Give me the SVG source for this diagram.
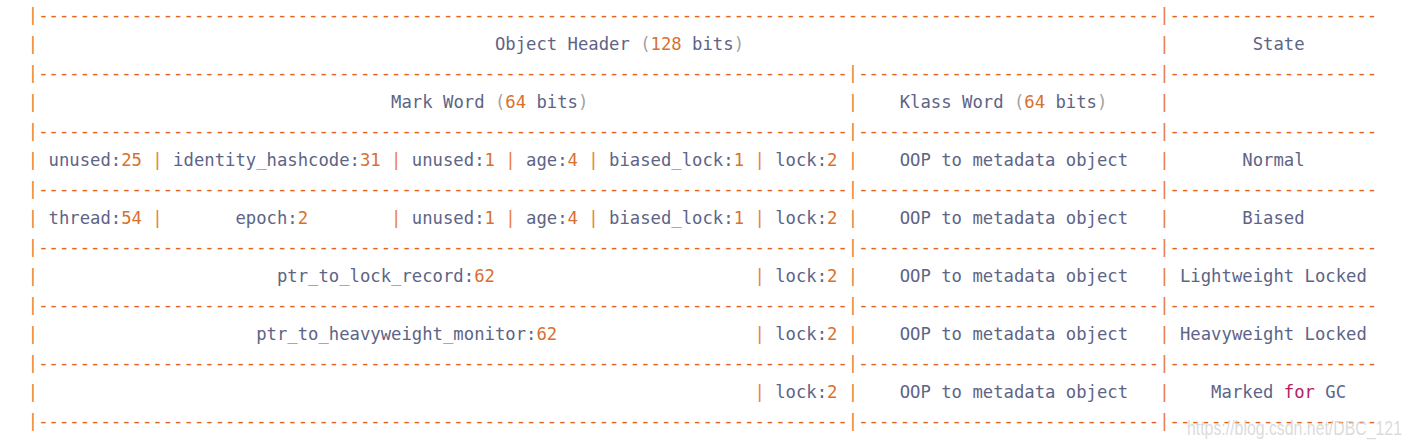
<svg xmlns="http://www.w3.org/2000/svg" width="1410" height="446" viewBox="0 0 1410 446">
<style>
text{font-family:"DejaVu Sans Mono","Liberation Mono",monospace;font-size:17.24px;fill:#5d6486;white-space:pre}
.p{fill:#e97d3e}
.d{fill:#e4621a}
.n{fill:#d8702e}
.g{fill:#a3a3a3}
.k{fill:#b5215e}
.wm{font-family:"Liberation Sans",Arial,sans-serif;font-size:19.5px;fill:#cfcfcf;fill-opacity:0.75}
</style>
<rect width="1410" height="446" fill="#ffffff"/>
<g id="borders">
<g id="border-0"><text class="p" x="27.8" y="21">|</text><text class="d" x="38.18" y="21" textLength="1121.04" lengthAdjust="spacing">------------------------------------------------------------------------------------------------------------</text><text class="p" x="1159.22" y="21">|</text><text class="d" x="1169.6" y="21" textLength="207.6" lengthAdjust="spacing">--------------------</text></g>
<g id="border-2"><text class="p" x="27.8" y="79">|</text><text class="d" x="38.18" y="79" textLength="809.64" lengthAdjust="spacing">------------------------------------------------------------------------------</text><text class="p" x="847.82" y="79">|</text><text class="d" x="858.2" y="79" textLength="301.02" lengthAdjust="spacing">-----------------------------</text><text class="p" x="1159.22" y="79">|</text><text class="d" x="1169.6" y="79" textLength="207.6" lengthAdjust="spacing">--------------------</text></g>
<g id="border-4"><text class="p" x="27.8" y="137">|</text><text class="d" x="38.18" y="137" textLength="809.64" lengthAdjust="spacing">------------------------------------------------------------------------------</text><text class="p" x="847.82" y="137">|</text><text class="d" x="858.2" y="137" textLength="301.02" lengthAdjust="spacing">-----------------------------</text><text class="p" x="1159.22" y="137">|</text><text class="d" x="1169.6" y="137" textLength="207.6" lengthAdjust="spacing">--------------------</text></g>
<g id="border-6"><text class="p" x="27.8" y="195">|</text><text class="d" x="38.18" y="195" textLength="809.64" lengthAdjust="spacing">------------------------------------------------------------------------------</text><text class="p" x="847.82" y="195">|</text><text class="d" x="858.2" y="195" textLength="301.02" lengthAdjust="spacing">-----------------------------</text><text class="p" x="1159.22" y="195">|</text><text class="d" x="1169.6" y="195" textLength="207.6" lengthAdjust="spacing">--------------------</text></g>
<g id="border-8"><text class="p" x="27.8" y="253">|</text><text class="d" x="38.18" y="253" textLength="809.64" lengthAdjust="spacing">------------------------------------------------------------------------------</text><text class="p" x="847.82" y="253">|</text><text class="d" x="858.2" y="253" textLength="301.02" lengthAdjust="spacing">-----------------------------</text><text class="p" x="1159.22" y="253">|</text><text class="d" x="1169.6" y="253" textLength="207.6" lengthAdjust="spacing">--------------------</text></g>
<g id="border-10"><text class="p" x="27.8" y="311">|</text><text class="d" x="38.18" y="311" textLength="809.64" lengthAdjust="spacing">------------------------------------------------------------------------------</text><text class="p" x="847.82" y="311">|</text><text class="d" x="858.2" y="311" textLength="301.02" lengthAdjust="spacing">-----------------------------</text><text class="p" x="1159.22" y="311">|</text><text class="d" x="1169.6" y="311" textLength="207.6" lengthAdjust="spacing">--------------------</text></g>
<g id="border-12"><text class="p" x="27.8" y="369">|</text><text class="d" x="38.18" y="369" textLength="809.64" lengthAdjust="spacing">------------------------------------------------------------------------------</text><text class="p" x="847.82" y="369">|</text><text class="d" x="858.2" y="369" textLength="301.02" lengthAdjust="spacing">-----------------------------</text><text class="p" x="1159.22" y="369">|</text><text class="d" x="1169.6" y="369" textLength="207.6" lengthAdjust="spacing">--------------------</text></g>
<g id="border-14"><text class="p" x="27.8" y="427">|</text><text class="d" x="38.18" y="427" textLength="809.64" lengthAdjust="spacing">------------------------------------------------------------------------------</text><text class="p" x="847.82" y="427">|</text><text class="d" x="858.2" y="427" textLength="301.02" lengthAdjust="spacing">-----------------------------</text><text class="p" x="1159.22" y="427">|</text><text class="d" x="1169.6" y="427" textLength="207.6" lengthAdjust="spacing">--------------------</text></g>
</g>
<g id="row-header">
<text class="p" x="27.8" y="50">|</text>
<text x="494.9" y="50" textLength="249.12" lengthAdjust="spacing">Object Header <tspan class="g">(</tspan><tspan class="n">128</tspan> bits<tspan class="g">)</tspan></text>
<text class="p" x="1159.22" y="50">|</text>
<text x="1252.64" y="50" textLength="51.9" lengthAdjust="spacing">State</text>
</g>
<g id="row-words">
<text class="p" x="27.8" y="108">|</text>
<text x="391.1" y="108" textLength="197.22" lengthAdjust="spacing">Mark Word <tspan class="g">(</tspan><tspan class="n">64</tspan> bits<tspan class="g">)</tspan></text>
<text class="p" x="847.82" y="108">|</text>
<text x="899.72" y="108" textLength="207.6" lengthAdjust="spacing">Klass Word <tspan class="g">(</tspan><tspan class="n">64</tspan> bits<tspan class="g">)</tspan></text>
<text class="p" x="1159.22" y="108">|</text>
</g>
<g id="row-normal">
<text class="p" x="27.8" y="166">|</text>
<text x="48.56" y="166" textLength="93.42" lengthAdjust="spacing">unused:<tspan class="n">25</tspan></text>
<text class="p" x="152.36" y="166">|</text>
<text x="173.12" y="166" textLength="207.6" lengthAdjust="spacing">identity_hashcode:<tspan class="n">31</tspan></text>
<text class="p" x="391.1" y="166">|</text>
<text x="411.86" y="166" textLength="83.04" lengthAdjust="spacing">unused:<tspan class="n">1</tspan></text>
<text class="p" x="505.28" y="166">|</text>
<text x="526.04" y="166" textLength="51.9" lengthAdjust="spacing">age:<tspan class="n">4</tspan></text>
<text class="p" x="588.32" y="166">|</text>
<text x="609.08" y="166" textLength="134.94" lengthAdjust="spacing">biased_lock:<tspan class="n">1</tspan></text>
<text class="p" x="754.4" y="166">|</text>
<text x="775.16" y="166" textLength="62.28" lengthAdjust="spacing">lock:<tspan class="n">2</tspan></text>
<text class="p" x="847.82" y="166">|</text>
<text x="899.72" y="166" textLength="228.36" lengthAdjust="spacing">OOP to metadata object</text>
<text class="p" x="1159.22" y="166">|</text>
<text x="1242.26" y="166" textLength="62.28" lengthAdjust="spacing">Normal</text>
</g>
<g id="row-biased">
<text class="p" x="27.8" y="224">|</text>
<text x="48.56" y="224" textLength="93.42" lengthAdjust="spacing">thread:<tspan class="n">54</tspan></text>
<text class="p" x="152.36" y="224">|</text>
<text x="235.4" y="224" textLength="72.66" lengthAdjust="spacing">epoch:<tspan class="n">2</tspan></text>
<text class="p" x="391.1" y="224">|</text>
<text x="411.86" y="224" textLength="83.04" lengthAdjust="spacing">unused:<tspan class="n">1</tspan></text>
<text class="p" x="505.28" y="224">|</text>
<text x="526.04" y="224" textLength="51.9" lengthAdjust="spacing">age:<tspan class="n">4</tspan></text>
<text class="p" x="588.32" y="224">|</text>
<text x="609.08" y="224" textLength="134.94" lengthAdjust="spacing">biased_lock:<tspan class="n">1</tspan></text>
<text class="p" x="754.4" y="224">|</text>
<text x="775.16" y="224" textLength="62.28" lengthAdjust="spacing">lock:<tspan class="n">2</tspan></text>
<text class="p" x="847.82" y="224">|</text>
<text x="899.72" y="224" textLength="228.36" lengthAdjust="spacing">OOP to metadata object</text>
<text class="p" x="1159.22" y="224">|</text>
<text x="1242.26" y="224" textLength="62.28" lengthAdjust="spacing">Biased</text>
</g>
<g id="row-lightweight">
<text class="p" x="27.8" y="282">|</text>
<text x="276.92" y="282" textLength="217.98" lengthAdjust="spacing">ptr_to_lock_record:<tspan class="n">62</tspan></text>
<text class="p" x="754.4" y="282">|</text>
<text x="775.16" y="282" textLength="62.28" lengthAdjust="spacing">lock:<tspan class="n">2</tspan></text>
<text class="p" x="847.82" y="282">|</text>
<text x="899.72" y="282" textLength="228.36" lengthAdjust="spacing">OOP to metadata object</text>
<text class="p" x="1159.22" y="282">|</text>
<text x="1179.98" y="282" textLength="186.84" lengthAdjust="spacing">Lightweight Locked</text>
</g>
<g id="row-heavyweight">
<text class="p" x="27.8" y="340">|</text>
<text x="256.16" y="340" textLength="301.02" lengthAdjust="spacing">ptr_to_heavyweight_monitor:<tspan class="n">62</tspan></text>
<text class="p" x="754.4" y="340">|</text>
<text x="775.16" y="340" textLength="62.28" lengthAdjust="spacing">lock:<tspan class="n">2</tspan></text>
<text class="p" x="847.82" y="340">|</text>
<text x="899.72" y="340" textLength="228.36" lengthAdjust="spacing">OOP to metadata object</text>
<text class="p" x="1159.22" y="340">|</text>
<text x="1179.98" y="340" textLength="186.84" lengthAdjust="spacing">Heavyweight Locked</text>
</g>
<g id="row-gc">
<text class="p" x="27.8" y="398">|</text>
<text class="p" x="754.4" y="398">|</text>
<text x="775.16" y="398" textLength="62.28" lengthAdjust="spacing">lock:<tspan class="n">2</tspan></text>
<text class="p" x="847.82" y="398">|</text>
<text x="899.72" y="398" textLength="228.36" lengthAdjust="spacing">OOP to metadata object</text>
<text class="p" x="1159.22" y="398">|</text>
<text x="1211.12" y="398" textLength="134.94" lengthAdjust="spacing">Marked <tspan class="k">for</tspan> GC</text>
</g>
<text class="wm" x="1187" y="435" textLength="215" lengthAdjust="spacingAndGlyphs">https://blog.csdn.net/DBC_121</text>
</svg>
